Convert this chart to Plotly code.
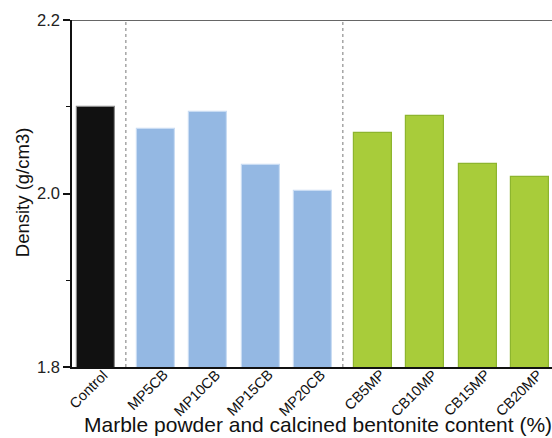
import plotly.graph_objects as go

categories = ["Control", "MP5CB", "MP10CB", "MP15CB", "MP20CB",
              "CB5MP", "CB10MP", "CB15MP", "CB20MP"]
density = [2.100, 2.074, 2.094, 2.033, 2.003, 2.070, 2.089, 2.034, 2.019]
groups = [0, 1, 1, 1, 1, 2, 2, 2, 2]
group_fill = ["#111111", "#94b8e3", "#a8cc3a"]
group_line = ["#8a8a8a", "#c9dcf3", "#8db52e"]

# bar positions: one unit per bar, plus a small extra gap between groups
GROUP_GAP = 0.14
xpos = [i + GROUP_GAP * g for i, g in enumerate(groups)]

fig = go.Figure()
fig.add_trace(go.Bar(
    x=xpos, y=density, width=0.725,
    marker=dict(color=[group_fill[g] for g in groups],
                line=dict(color=[group_line[g] for g in groups], width=1.2)),
    showlegend=False,
))

# dotted separators between groups
for a, b in [(0, 1), (4, 5)]:
    xm = (xpos[a] + xpos[b]) / 2
    fig.add_shape(type="line", x0=xm, x1=xm, y0=1.8, y1=2.2,
                  xref="x", yref="y",
                  line=dict(color="#777777", width=1, dash="dot"))

# top frame line
fig.add_shape(type="line", x0=0, x1=1, y0=2.2, y1=2.2, xref="paper", yref="y",
              line=dict(color="#333333", width=1.5))

font = "Liberation Sans, Arial, sans-serif"

# slanted category labels under each bar
for xp, name in zip(xpos, categories):
    fig.add_annotation(text=name, textangle=-45,
                       xref="x", yref="paper", x=xp, y=0,
                       xanchor="right", yanchor="top",
                       xshift=18, yshift=3, showarrow=False,
                       font=dict(size=14.5, color="#111111", family=font))

# axis titles
fig.add_annotation(text="Marble powder and calcined bentonite content (%)",
                   xref="paper", yref="paper", x=0.512, y=-0.166,
                   xanchor="center", yanchor="middle", showarrow=False,
                   font=dict(size=21, color="#111111", family=font))
fig.add_annotation(text="Density (g/cm3)", textangle=-90,
                   xref="paper", yref="paper", x=-0.104, y=0.504,
                   xanchor="center", yanchor="middle", showarrow=False,
                   font=dict(size=18.5, color="#111111", family=font))

fig.update_layout(
    width=552, height=438,
    margin=dict(l=72, r=0, t=20, b=71),
    paper_bgcolor="white", plot_bgcolor="white",
    font=dict(family=font, color="#111111"),
    bargap=0,
    xaxis=dict(
        range=[-0.458, 8.70], automargin=False,
        showticklabels=False,
        showgrid=False, zeroline=False,
        showline=True, linecolor="#111111", linewidth=1.5,
        ticks="",
    ),
    yaxis=dict(
        range=[1.8, 2.2], tickvals=[1.8, 2.0, 2.2], automargin=False,
        ticktext=["1.8", "2.0", "2.2"],
        tickfont=dict(size=16.5, color="#222222"),
        showgrid=False, zeroline=False,
        showline=True, linecolor="#111111", linewidth=1.5,
        ticks="outside", ticklen=7, tickwidth=1.5, tickcolor="#111111",
        minor=dict(tickvals=[1.9, 2.1], ticks="outside", ticklen=4,
                   tickwidth=1.2, tickcolor="#111111", showgrid=False),
    ),
)

fig.write_html("out.html")
